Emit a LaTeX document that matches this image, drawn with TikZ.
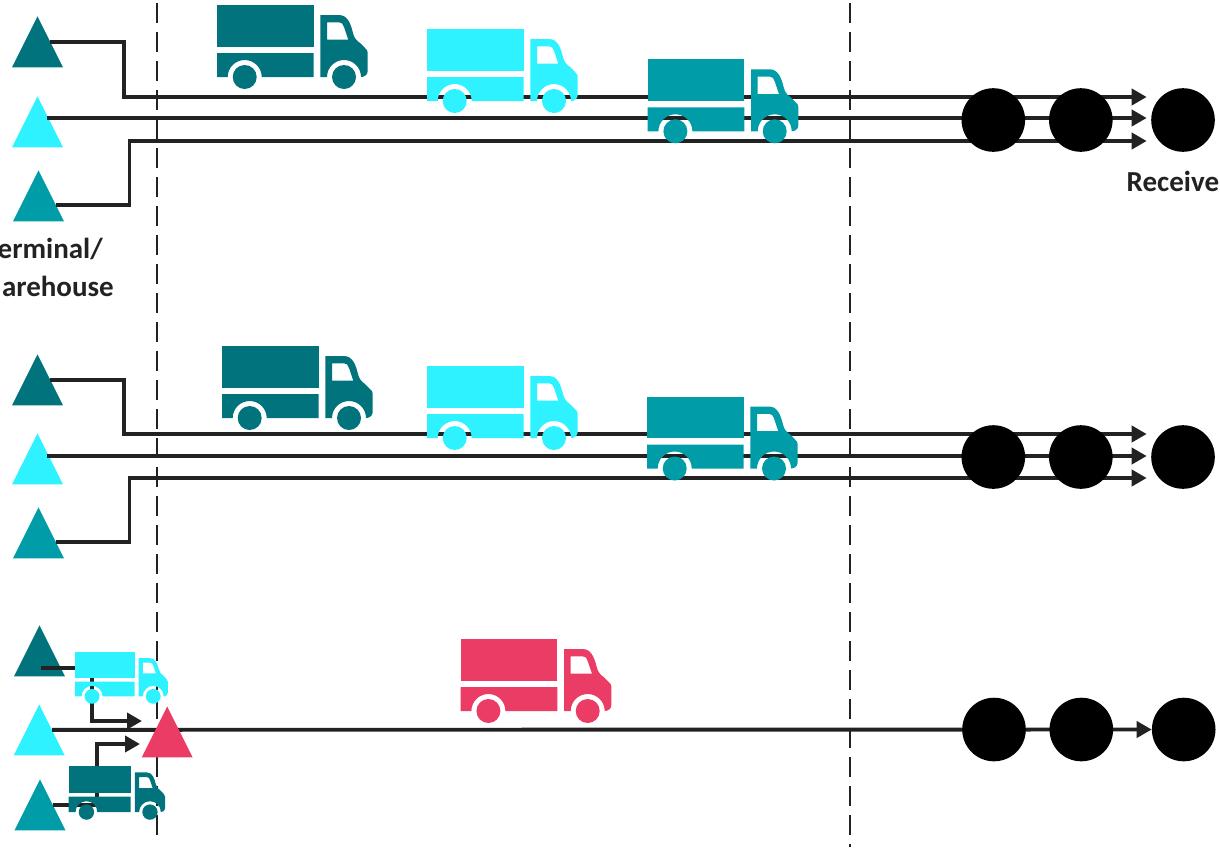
\documentclass[tikz,border=0pt]{standalone}
\usepackage{fontspec}
\setmainfont{Carlito}
\usetikzlibrary{arrows.meta,shapes.geometric}
\definecolor{tealdark}{HTML}{00737C}
\definecolor{tealmid}{HTML}{009DA8}
\definecolor{cyanlight}{HTML}{2EF2FF}
\definecolor{redtruck}{HTML}{EB3C65}
\definecolor{linegray}{HTML}{222222}
\pgfdeclarelayer{front}
\pgfsetlayers{main,front}
\tikzset{
  terminal/.style={isosceles triangle, isosceles triangle apex angle=53.13, shape border rotate=90,
    minimum width=51pt, minimum height=51pt, inner sep=0pt, anchor=apex, fill=#1},
  receiver/.style={circle, fill=black, minimum size=63.6pt, inner sep=0pt},
  flow/.style={line width=3.9pt, draw=linegray, -{Triangle[length=15pt,width=16pt]}},
  boundary/.style={line width=2pt, draw=linegray, dash pattern=on 20pt off 9pt},
  caption/.style={font=\fontsize{29}{35}\selectfont\bfseries, text=linegray, inner sep=0pt},
  pics/truck/.style={code={
    \fill[#1] (0,0) rectangle (96.7,41.7);
    \fill[#1] (0,48) -- (96.7,48) -- (96.7,72) -- (44.7,72) arc[start angle=0, end angle=-180, radius=17] -- (0,72) -- cycle;
    \fill[#1, even odd rule] (103.3,10) -- (122,10) .. controls (131,10) and (134,20) .. (136,28)
      .. controls (137,33) and (140,36) .. (143,38) -- (148,43) .. controls (150,44.5) and (150.7,46) .. (150.7,48)
      -- (150.7,66) .. controls (150.7,70) and (147,72) .. (144,72)
      arc[start angle=0, end angle=-180, radius=17] -- (103.3,72) -- cycle
      (110,17.3) -- (122,17.3) .. controls (125,17.3) and (126,19) .. (127,22) -- (131.3,34.7) -- (110,34.7) -- cycle;
    \fill[#1] (27.7,72) circle (12);
    \fill[#1] (127,72) circle (12);
  }}
}
\begin{document}
\begin{tikzpicture}[x=1pt, y=-1pt, line join=miter]
  \useasboundingbox (0,0) rectangle (1220,847);

  % Dashed boundaries
  \draw[boundary] (156.5,3) -- (156.5,840);
  \draw[boundary] (849.5,3) -- (849.5,847);

  % Terminals, first group
  \node[terminal=tealdark] (termA) at (37.5,16) {};
  \node[terminal=cyanlight] (termB) at (37.5,96) {};
  \node[terminal=tealmid] (termC) at (38.5,170) {};

  % Terminals, second group
  \node[terminal=tealdark] (termD) at (37.5,354) {};
  \node[terminal=cyanlight] (termE) at (37.5,433) {};
  \node[terminal=tealmid] (termF) at (38.5,507) {};

  % Terminals, third group
  \node[terminal=tealdark] (termG) at (39.5,625) {};
  \node[terminal=cyanlight] (termH) at (39.2,704) {};
  \node[terminal=tealmid] (termI) at (40,779) {};

  % Arrow ends
  \coordinate (endA) at (1146.7,97);
  \coordinate (endB) at (1146.7,118);
  \coordinate (endC) at (1146.7,141);
  \coordinate (endD) at (1146.7,434);
  \coordinate (endE) at (1146.7,456);
  \coordinate (endF) at (1146.7,478);
  \coordinate (endG) at (142,721);
  \coordinate (endI) at (140,744);

  \begin{pgfonlayer}{front}
    % Consolidation point
    \node[terminal=redtruck] (termRed) at (167.2,706) {};

    % Receivers
    \node[receiver] (recvA) at (993.3,120) {};
    \node[receiver] (recvB) at (1080.8,120) {};
    \node[receiver] (recvC) at (1183,120) {};
    \node[receiver] (recvD) at (993.3,457) {};
    \node[receiver] (recvE) at (1080.8,457) {};
    \node[receiver] (recvF) at (1183,457) {};
    \node[receiver] (recvG) at (994,729.5) {};
    \node[receiver] (recvH) at (1081.3,729.5) {};
    \node[receiver] (recvI) at (1183.7,729.5) {};

    % Trucks
    \pic (truckA) at (217,5) {truck=tealdark};
    \pic (truckB) at (427,29) {truck=cyanlight};
    \pic (truckC) at (647.7,59.3) {truck=tealmid};
    \pic (truckD) at (222,346) {truck=tealdark};
    \pic (truckE) at (427,366) {truck=cyanlight};
    \pic (truckF) at (647,396.5) {truck=tealmid};
    \pic (truckG) at (460.7,639) {truck=redtruck};
    \pic[scale=0.616] (truckH) at (75,652) {truck=cyanlight};
    \pic[scale=0.64] (truckI) at (68.7,766) {truck=tealdark};
  \end{pgfonlayer}

  % Routes, first group
  \draw[flow] (termA.right side) -| (124,97) -- (endA);
  \draw[flow] ([xshift=-3pt]termB.right side |- endB) -- (endB);
  \draw[flow] ([shift={(4.75pt,-9.5pt)}]termC.right side) -| (129.5,141) -- (endC);

  % Routes, second group
  \draw[flow] (termD.right side) -| (124,434) -- (endD);
  \draw[flow] ([xshift=-3pt]termE.right side |- endE) -- (endE);
  \draw[flow] ([shift={(4.75pt,-9.5pt)}]termF.right side) -| (129.5,478) -- (endF);

  % Routes, third group
  \draw[flow] ([shift={(1.5pt,9pt)}]termG.lower side) -| (91.7,721) -- (endG);
  \draw[flow] (termH.right side) -- (recvI.west);
  \draw[flow] (termI.right side) -| (96.7,744) -- (endI);

  % Labels
  \node[caption, anchor=base east] (labelTop) at (103,258) {erminal/};
  \node[caption, anchor=base east] (labelBottom) at (114,296) {arehouse};
  \node[caption, anchor=base west] (labelRecv) at (1126.5,191.7) {Receive};
\end{tikzpicture}
\end{document}
